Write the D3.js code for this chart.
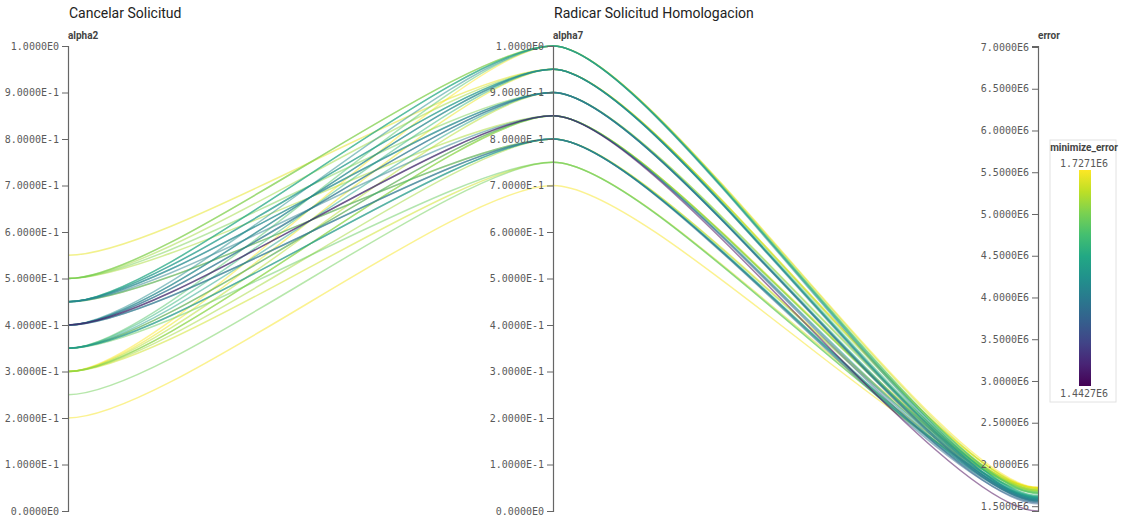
<!DOCTYPE html>
<html>
<head>
<meta charset="utf-8">
<script src="https://cdn.jsdelivr.net/npm/d3@7"></script>
<style>
  html, body { margin: 0; padding: 0; background: #fff; }
  svg { display: block; }
  .title { font-family: Roboto, "Noto Sans", sans-serif; font-size: 14px; fill: #222; }
  .axis-name { font-family: Roboto, "Noto Sans", sans-serif; font-size: 10px; font-weight: 700; fill: #444; }
  .tick text { font-family: "DejaVu Sans Mono", monospace; font-size: 10px; fill: #5a5a5a; }
  .domain, .tick line { stroke: #666; }
</style>
</head>
<body>
<svg id="chart" width="1126" height="522"></svg>
<script>
// Dimensions shown as parallel axes
const axisNames = ["alpha2", "alpha7", "error"];
// Stage titles above the first two axes
const stageTitles = ["Cancelar Solicitud", "Radicar Solicitud Homologacion"];

// One entry per trial
const alpha2Values = [
  0.20, 0.25, 0.30, 0.30, 0.30, 0.30, 0.30, 0.30, 0.30,
  0.35, 0.35, 0.35, 0.35, 0.35, 0.35, 0.35, 0.35,
  0.40, 0.40, 0.40, 0.40, 0.40, 0.40, 0.40, 0.40, 0.40,
  0.45, 0.45, 0.45, 0.45, 0.45, 0.45, 0.45, 0.45, 0.45,
  0.50, 0.50, 0.50, 0.50, 0.50, 0.55
];
const alpha7Values = [
  0.70, 0.75, 0.75, 0.80, 0.85, 0.90, 0.95, 1.00, 0.85,
  0.80, 0.85, 0.90, 0.95, 1.00, 0.75, 0.85, 0.80,
  0.85, 0.80, 0.85, 0.90, 0.95, 1.00, 0.90, 0.80, 0.95,
  0.85, 0.90, 0.95, 1.00, 0.80, 0.90, 0.95, 1.00, 0.80,
  0.90, 0.95, 1.00, 1.00, 0.85, 0.95
];
const errorValues = [
  1.7240e6, 1.6650e6, 1.7050e6, 1.6880e6, 1.6720e6, 1.6950e6, 1.7180e6, 1.7271e6, 1.6850e6,
  1.6150e6, 1.5950e6, 1.6050e6, 1.6300e6, 1.6500e6, 1.6600e6, 1.7150e6, 1.5850e6,
  1.4427e6, 1.5450e6, 1.5300e6, 1.5500e6, 1.5650e6, 1.5800e6, 1.5600e6, 1.5700e6, 1.5900e6,
  1.5650e6, 1.5750e6, 1.5900e6, 1.6100e6, 1.6000e6, 1.5800e6, 1.6050e6, 1.6200e6, 1.7200e6,
  1.6700e6, 1.6850e6, 1.6550e6, 1.7000e6, 1.6900e6, 1.7150e6
];

// Axis ticks and domains
const alphaTicks = [0, 0.1, 0.2, 0.3, 0.4, 0.5, 0.6, 0.7, 0.8, 0.9, 1.0];
const alphaDomain = [0, 1];
const errorTicks = [1.5e6, 2.0e6, 2.5e6, 3.0e6, 3.5e6, 4.0e6, 4.5e6, 5.0e6, 5.5e6, 6.0e6, 6.5e6, 7.0e6];
const errorDomain = [1.4427e6, 7.012e6];
const colorDomain = [1.4427e6, 1.7271e6];
const colorLegendTitle = "minimize_error";

const svg = d3.select("#chart");
const plotTop = 46, plotBottom = 511;

const x = d3.scalePoint().domain(axisNames).range([68, 1038]);
const y = {
  alpha2: d3.scaleLinear().domain(alphaDomain).range([plotBottom, plotTop]),
  alpha7: d3.scaleLinear().domain(alphaDomain).range([plotBottom, plotTop]),
  error: d3.scaleLinear().domain(errorDomain).range([plotBottom, plotTop])
};
const color = d3.scaleSequential(d3.interpolateViridis).domain(colorDomain);

const fmt = v => v.toExponential(4).replace("e+", "E").replace("e-", "E-");

// Curve with flat tangents at every axis crossing
function AxisCurve(context) { this._context = context; }
AxisCurve.prototype = {
  areaStart() { this._line = 0; },
  areaEnd() { this._line = NaN; },
  lineStart() { this._point = 0; },
  lineEnd() {},
  point(px, py) {
    px = +px; py = +py;
    if (this._point === 0) {
      this._point = 1;
      this._context.moveTo(px, py);
    } else {
      const k = (px - this._x0) * 0.2;
      this._context.bezierCurveTo(this._x0 + k, this._y0, px - k, py, px, py);
    }
    this._x0 = px; this._y0 = py;
  }
};
const axisCurve = ctx => new AxisCurve(ctx);

const rows = alpha2Values.map((a2, i) => ({ alpha2: a2, alpha7: alpha7Values[i], error: errorValues[i] }));
rows.sort((a, b) => b.error - a.error);

const line = d3.line()
  .x(d => x(d.key))
  .y(d => y[d.key](d.value))
  .curve(axisCurve);

svg.append("g")
  .attr("fill", "none")
  .selectAll("path")
  .data(rows)
  .join("path")
  .attr("d", r => line(axisNames.map(k => ({ key: k, value: r[k] }))))
  .attr("stroke", r => color(r.error))
  .attr("stroke-width", 1.5)
  .attr("stroke-opacity", 0.5);

// Axes
axisNames.forEach(name => {
  const axis = d3.axisLeft(y[name])
    .tickValues(name === "error" ? errorTicks : alphaTicks)
    .tickFormat(fmt);
  const g = svg.append("g")
    .attr("transform", `translate(${x(name)},0)`)
    .call(axis);
  g.select(".domain").attr("stroke-width", 1.2);
  g.append("text")
    .attr("class", "axis-name")
    .attr("x", 0)
    .attr("y", 39)
    .attr("text-anchor", "start")
    .text(name);
});

// Stage titles
stageTitles.forEach((t, i) => {
  svg.append("text")
    .attr("class", "title")
    .attr("x", x(axisNames[i]) + 1)
    .attr("y", 18)
    .text(t);
});

// Colour legend
const lg = svg.append("g").attr("transform", "translate(1050,140)");
lg.append("rect")
  .attr("width", 66).attr("height", 262)
  .attr("fill", "#fff").attr("stroke", "#e2e2e2");
lg.append("text")
  .attr("class", "axis-name")
  .attr("x", 34).attr("y", 11)
  .attr("text-anchor", "middle")
  .text(colorLegendTitle);
lg.append("text")
  .attr("x", 34).attr("y", 27)
  .attr("text-anchor", "middle")
  .style("font-family", "'DejaVu Sans Mono', monospace")
  .style("font-size", "10px").style("fill", "#5a5a5a")
  .text(fmt(colorDomain[1]));
lg.append("text")
  .attr("x", 34).attr("y", 257)
  .attr("text-anchor", "middle")
  .style("font-family", "'DejaVu Sans Mono', monospace")
  .style("font-size", "10px").style("fill", "#5a5a5a")
  .text(fmt(colorDomain[0]));

const grad = svg.append("defs").append("linearGradient")
  .attr("id", "errGrad").attr("x1", 0).attr("y1", 1).attr("x2", 0).attr("y2", 0);
d3.range(0, 1.0001, 0.1).forEach(t => {
  grad.append("stop").attr("offset", t).attr("stop-color", d3.interpolateViridis(t));
});
lg.append("rect")
  .attr("x", 29).attr("y", 30)
  .attr("width", 12).attr("height", 216)
  .attr("fill", "url(#errGrad)");
</script>
</body>
</html>
